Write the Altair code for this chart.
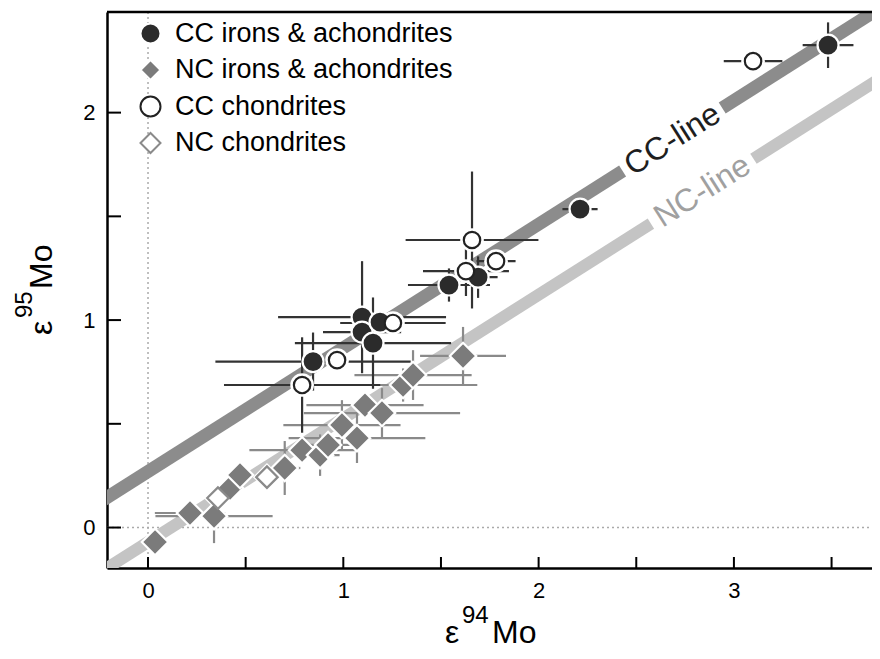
import altair as alt
import pandas as pd

GROUPS = ["CC irons & achondrites", "NC irons & achondrites", "CC chondrites", "NC chondrites"]
FILLS = ["#2b2b2b", "#7b7b7b", "#ffffff", "#ffffff"]
STROKES = ["#ffffff", "#ffffff", "#222222", "#8a8a8a"]
SHAPES = ["circle", "diamond", "circle", "diamond"]

# CC irons & achondrites (filled circles)
cc_iron_x = [3.482, 2.212, 1.541, 1.690, 1.096, 1.096, 1.152, 1.188, 0.845]
cc_iron_y = [2.325, 1.535, 1.169, 1.207, 1.014, 0.942, 0.889, 0.990, 0.800]
cc_iron_ex = [0.13, 0.09, 0.21, 0.10, 0.43, 0.20, 0.40, 0.10, 0.50]
cc_iron_ey = [0.11, 0.03, 0.08, 0.10, 0.27, 0.08, 0.22, 0.05, 0.14]

# CC chondrites (open circles)
cc_chon_x = [3.098, 1.659, 1.782, 1.628, 1.254, 0.968, 0.789]
cc_chon_y = [2.248, 1.386, 1.284, 1.236, 0.986, 0.807, 0.687]
cc_chon_ex = [0.15, 0.34, 0.10, 0.22, 0.27, 0.05, 0.40]
cc_chon_ey = [0.02, 0.33, 0.04, 0.12, 0.05, 0.03, 0.23]

# NC irons & achondrites (filled diamonds)
nc_iron_x = [0.036, 0.215, 0.338, 0.420, 0.471, 0.700, 0.789, 0.881, 0.922, 0.993,
             1.070, 1.111, 1.198, 1.306, 1.357, 1.613]
nc_iron_y = [-0.070, 0.070, 0.055, 0.190, 0.253, 0.287, 0.373, 0.349, 0.398, 0.494,
             0.431, 0.590, 0.552, 0.687, 0.735, 0.827]
nc_iron_ex = [0.04, 0.18, 0.30, 0.05, 0.05, 0.08, 0.27, 0.10, 0.12, 0.30,
              0.35, 0.30, 0.40, 0.38, 0.30, 0.22]
nc_iron_ey = [0.03, 0.04, 0.13, 0.04, 0.04, 0.13, 0.06, 0.10, 0.05, 0.12,
              0.12, 0.05, 0.12, 0.08, 0.12, 0.14]

# NC chondrites (open diamonds)
nc_chon_x = [0.358, 0.609]
nc_chon_y = [0.142, 0.243]
nc_chon_ex = [0.05, 0.05]
nc_chon_ey = [0.03, 0.03]

# reference lines
line_slope = 0.596
cc_intercept = 0.27
nc_intercept = -0.07
cc_seg_x = [-0.4, 2.43, 2.94, 3.9]
cc_seg_id = [0, 0, 1, 1]
nc_seg_x = [-0.4, 2.575, 3.10, 3.9]
nc_seg_id = [0, 0, 1, 1]
cc_label_x = 2.685
nc_label_x = 2.838

x_ticks = [0, 0.5, 1, 1.5, 2, 2.5, 3, 3.5]
y_ticks = [0, 0.5, 1, 1.5, 2]
x_labels = [0, 1, 2, 3]
y_labels = [0, 1, 2]

X_DOMAIN = [-0.21, 3.707]
Y_DOMAIN = [-0.195, 2.485]
W, H = 765, 556
FONT = "Liberation Sans"

rows = []
def add(group, xs, ys, exs, eys, size, halo, bar):
    for x, y, ex, ey in zip(xs, ys, exs, eys):
        rows.append(dict(group=group, x=x, y=y, ex=ex, ey=ey, size=size, halo=halo,
                         shape=SHAPES[GROUPS.index(group)], bar=bar))

add(GROUPS[1], nc_iron_x, nc_iron_y, nc_iron_ex, nc_iron_ey, 700, 0, "#8a8a8a")
add(GROUPS[3], nc_chon_x, nc_chon_y, nc_chon_ex, nc_chon_ey, 460, 800, "#8a8a8a")
add(GROUPS[0], cc_iron_x, cc_iron_y, cc_iron_ex, cc_iron_ey, 440, 0, "#333333")
add(GROUPS[2], cc_chon_x, cc_chon_y, cc_chon_ex, cc_chon_ey, 270, 560, "#333333")
pts = pd.DataFrame(rows)

xs = alt.Scale(domain=X_DOMAIN, nice=False, zero=False)
ys = alt.Scale(domain=Y_DOMAIN, nice=False, zero=False)
xaxis = alt.Axis(values=x_labels, ticks=False, grid=False, domainColor="black", domainWidth=2.5,
                 labelFontSize=22, labelColor="black", labelFont=FONT, labelPadding=12,
                 title=None, format="d")
yaxis = alt.Axis(values=y_labels, ticks=False, grid=False, domainColor="black", domainWidth=2.5,
                 labelFontSize=22, labelColor="black", labelFont=FONT, labelPadding=12,
                 title=None, format="d")

def X(f):
    return alt.X(f, type="quantitative", scale=xs, axis=xaxis)

def Y(f):
    return alt.Y(f, type="quantitative", scale=ys, axis=yaxis)

# reference bands
cc_df = pd.DataFrame({"x": cc_seg_x, "seg": cc_seg_id})
nc_df = pd.DataFrame({"x": nc_seg_x, "seg": nc_seg_id})
cc_band = alt.Chart(cc_df).transform_calculate(
    y=f"{cc_intercept} + {line_slope} * datum.x").mark_line(
    clip=True, color="#8c8c8c", strokeWidth=13, strokeCap="butt").encode(
    x=X("x"), y=Y("y"), detail="seg:N")
nc_band = alt.Chart(nc_df).transform_calculate(
    y=f"{nc_intercept} + {line_slope} * datum.x").mark_line(
    clip=True, color="#c4c4c4", strokeWidth=12, strokeCap="butt").encode(
    x=X("x"), y=Y("y"), detail="seg:N")

cc_lab = alt.Chart(pd.DataFrame({"x": [cc_label_x], "t": ["CC-line"]})).transform_calculate(
    y=f"{cc_intercept} + {line_slope} * datum.x").mark_text(
    angle=327.7, fontSize=32, font=FONT, color="#1e1e1e", align="center", baseline="middle").encode(
    x=X("x"), y=Y("y"), text="t:N")
nc_lab = alt.Chart(pd.DataFrame({"x": [nc_label_x], "t": ["NC-line"]})).transform_calculate(
    y=f"{nc_intercept} + {line_slope} * datum.x").mark_text(
    angle=327.7, fontSize=32, font=FONT, color="#a0a0a0", align="center", baseline="middle").encode(
    x=X("x"), y=Y("y"), text="t:N")

# zero lines
zx = alt.Chart(pd.DataFrame({"v": [0]})).mark_rule(
    color="#aaaaaa", strokeDash=[2, 3], strokeWidth=1.5).encode(
    x=X("v"), y=alt.value(0), y2=alt.value(H))
zy = alt.Chart(pd.DataFrame({"v": [0]})).mark_rule(
    color="#aaaaaa", strokeDash=[2, 3], strokeWidth=1.5).encode(
    y=Y("v"), x=alt.value(0), x2=alt.value(W))

# error bars
base = alt.Chart(pts)
hbar = base.transform_calculate(x1="datum.x - datum.ex", x2="datum.x + datum.ex").mark_rule(
    strokeWidth=2.2).encode(x=X("x1"), x2="x2:Q", y=Y("y"), color=alt.Color("bar:N", scale=None))
vbar = base.transform_calculate(y1="datum.y - datum.ey", y2="datum.y + datum.ey").mark_rule(
    strokeWidth=2.2).encode(y=Y("y1"), y2="y2:Q", x=X("x"), color=alt.Color("bar:N", scale=None))

# halos for open symbols
halo = base.transform_filter("datum.halo > 0").mark_point(
    filled=True, opacity=1, color="white").encode(
    x=X("x"), y=Y("y"), shape=alt.Shape("shape:N", scale=None),
    size=alt.Size("halo:Q", scale=None))

legend = alt.Legend(orient="none", legendX=30, legendY=8, title=None, labelFontSize=27,
                    labelFont=FONT, labelColor="black", symbolSize=400, symbolStrokeWidth=2,
                    rowPadding=7.5, labelOffset=11, padding=0, labelLimit=500)
points = base.mark_point(filled=True, opacity=1, strokeWidth=2.2).encode(
    x=X("x"), y=Y("y"),
    shape=alt.Shape("group:N", scale=alt.Scale(domain=GROUPS, range=SHAPES), legend=legend),
    fill=alt.Fill("group:N", scale=alt.Scale(domain=GROUPS, range=FILLS), legend=legend),
    stroke=alt.Stroke("group:N", scale=alt.Scale(domain=GROUPS, range=STROKES), legend=legend),
    size=alt.Size("size:Q", scale=None),
    order=alt.Order("order:Q"),
).transform_window(order="row_number()")

# inward ticks and top frame
yt = alt.Chart(pd.DataFrame({"v": y_ticks})).mark_rule(color="black", strokeWidth=2).encode(
    y=Y("v"), x=alt.value(0), x2=alt.value(14))
xt = alt.Chart(pd.DataFrame({"v": x_ticks})).mark_rule(color="black", strokeWidth=2).encode(
    x=X("v"), y=alt.value(H), y2=alt.value(H - 11))
top = alt.Chart(pd.DataFrame({"v": [0]})).mark_rule(color="black", strokeWidth=2.5).encode(
    x=alt.value(0), x2=alt.value(W), y=alt.value(0))

def txt(s, px, py, size, angle=0):
    return alt.Chart(pd.DataFrame({"t": [s]})).mark_text(
        font=FONT, fontSize=size, color="black", align="left", baseline="alphabetic",
        angle=angle).encode(x=alt.value(px), y=alt.value(py), text="t:N")

titles = [
    txt("ε", 338, 631, 32), txt("94", 355, 611, 24), txt("Mo", 385, 631, 32),
    txt("ε", -55, 323, 32, 270), txt("95", -75, 306, 24, 270), txt("Mo", -55, 277, 32, 270),
]

chart = alt.layer(
    zx, zy, nc_band, cc_band, cc_lab, nc_lab, hbar, vbar, halo, points, yt, xt, top, *titles
).properties(
    width=W, height=H,
    padding={"left": 99, "top": 4, "right": 0, "bottom": 83},
    autosize=alt.AutoSizeParams(type="none"),
).configure_view(stroke=None)

chart.save("out.html", embed_options={"renderer": "svg", "actions": False})
